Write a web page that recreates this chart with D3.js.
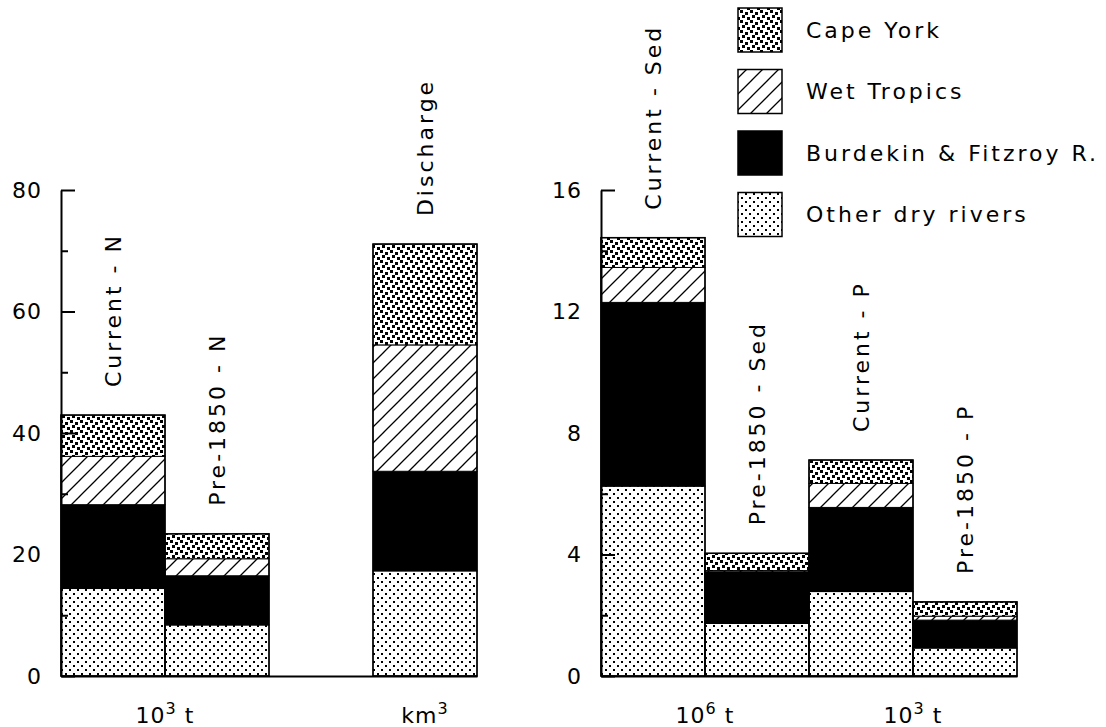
<!DOCTYPE html>
<html>
<head>
<meta charset="utf-8">
<script src="https://cdn.jsdelivr.net/npm/d3@7"></script>
<style>
  html, body { margin: 0; padding: 0; background: #fff; }
  svg { display: block; font-family: "DejaVu Sans", sans-serif; }
</style>
</head>
<body>
<svg id="chart" width="1106" height="727"></svg>
<script>
// ---------------- DATA ----------------
const seriesKeys = ["other", "burdekin", "wet", "cape"];
const legendNames = ["Cape York", "Wet Tropics", "Burdekin & Fitzroy R.", "Other dry rivers"];
const legendKeys = ["cape", "wet", "burdekin", "other"];

// Left panel (N in 10^3 t, discharge in km^3)
const leftSlots = ["Current - N", "Pre-1850 - N", "blank", "Discharge"];
const leftCategories = ["Current - N", "Pre-1850 - N", "Discharge"];
const leftOther = [14.4, 8.4, 17.3];
const leftBurdekin = [13.8, 8.1, 16.4];
const leftWet = [7.95, 2.8, 20.8];
const leftCape = [6.8, 4.1, 16.6];
const leftTicks = [0, 20, 40, 60, 80];
const leftMinorTicks = [10, 30, 50, 70];

// Right panel (Sed in 10^6 t, P in 10^3 t)
const rightCategories = ["Current - Sed", "Pre-1850 - Sed", "Current - P", "Pre-1850 - P"];
const rightOther = [6.25, 1.73, 2.78, 0.92];
const rightBurdekin = [6.05, 1.70, 2.77, 0.92];
const rightWet = [1.15, 0.04, 0.79, 0.13];
const rightCape = [0.98, 0.57, 0.77, 0.47];
const rightTicks = [0, 4, 8, 12, 16];
const rightMinorTicks = [2, 6, 10, 14];

// Unit labels
const leftUnitBase = ["10", "km"];
const leftUnitSup = ["3", "3"];
const leftUnitTail = [" t", ""];
const rightUnitBase = ["10", "10"];
const rightUnitSup = ["6", "3"];
const rightUnitTail = [" t", " t"];

// ---------------- DRAW ----------------
const svg = d3.select("#chart");
const FONT = 22;
const defs = svg.append("defs");

// Cape York: dense dots
const pCape = defs.append("pattern").attr("id", "p-cape")
  .attr("patternUnits", "userSpaceOnUse").attr("width", 10).attr("height", 10);
pCape.append("rect").attr("width", 10).attr("height", 10).attr("fill", "#fff");
[[0, 0], [5, 2], [2, 5], [7, 7]].forEach(([a, b]) =>
  pCape.append("rect").attr("x", a).attr("y", b).attr("width", 3).attr("height", 3).attr("fill", "#000"));

// Wet Tropics: diagonal hatch
const hs = 16;
const pWet = defs.append("pattern").attr("id", "p-wet")
  .attr("patternUnits", "userSpaceOnUse").attr("width", hs).attr("height", hs);
pWet.append("rect").attr("width", hs).attr("height", hs).attr("fill", "#fff");
pWet.append("path")
  .attr("d", `M0,${hs} L${hs},0 M${-hs/4},${hs/4} L${hs/4},${-hs/4} M${hs*3/4},${hs*5/4} L${hs*5/4},${hs*3/4}`)
  .attr("stroke", "#000").attr("stroke-width", 1.3);

// Other dry rivers: sparse dots
const pOther = defs.append("pattern").attr("id", "p-other")
  .attr("patternUnits", "userSpaceOnUse").attr("width", 8).attr("height", 8);
pOther.append("rect").attr("width", 8).attr("height", 8).attr("fill", "#fff");
[[1, 1], [5, 5]].forEach(([a, b]) =>
  pOther.append("rect").attr("x", a).attr("y", b).attr("width", 2).attr("height", 2).attr("fill", "#000"));

const fills = { cape: "url(#p-cape)", wet: "url(#p-wet)", burdekin: "#000", other: "url(#p-other)" };

function drawPanel(opts) {
  const { slots, cats, other, burdekin, wet, cape, yMax, ticks, minor, xRange, yRange } = opts;
  const x = d3.scaleBand().domain(slots).range(xRange).padding(0);
  const y = d3.scaleLinear().domain([0, yMax]).range(yRange);
  const rows = cats.map((c, i) => ({ cat: c, other: other[i], burdekin: burdekin[i], wet: wet[i], cape: cape[i] }));
  const stacked = d3.stack().keys(seriesKeys)(rows);
  const g = svg.append("g");

  // segments
  stacked.forEach(layer => {
    g.selectAll(null).data(layer).join("rect")
      .attr("x", d => x(d.data.cat))
      .attr("width", x.bandwidth())
      .attr("y", d => y(d[1]))
      .attr("height", d => Math.max(0, y(d[0]) - y(d[1])))
      .attr("fill", fills[layer.key])
      .attr("stroke", "#000").attr("stroke-width", 1);
  });
  // outlines
  g.selectAll(null).data(rows).join("rect")
    .attr("x", d => x(d.cat))
    .attr("width", x.bandwidth())
    .attr("y", d => y(d.other + d.burdekin + d.wet + d.cape))
    .attr("height", d => y(0) - y(d.other + d.burdekin + d.wet + d.cape))
    .attr("fill", "none").attr("stroke", "#000").attr("stroke-width", 1.5);

  // rotated category labels
  g.selectAll(null).data(rows).join("text")
    .attr("transform", d => `translate(${x(d.cat) + x.bandwidth() / 2},${y(d.other + d.burdekin + d.wet + d.cape) - 28}) rotate(-90)`)
    .attr("dy", "0.36em")
    .attr("text-anchor", "start")
    .attr("font-size", FONT)
    .attr("letter-spacing", 3)
    .attr("fill", "#000")
    .text(d => d.cat);

  // y axis (ticks pointing inward)
  const ax = g.append("g").attr("transform", `translate(${xRange[0]},0)`)
    .call(d3.axisLeft(y).tickValues(ticks).tickSize(-14).tickSizeOuter(0).tickPadding(19));
  ax.selectAll("text").attr("font-size", FONT).attr("font-family", "DejaVu Sans, sans-serif")
    .attr("letter-spacing", 1).attr("fill", "#000");
  ax.selectAll("line").attr("stroke-width", 2);
  ax.select(".domain").attr("stroke-width", 2);
  const axm = g.append("g").attr("transform", `translate(${xRange[0]},0)`)
    .call(d3.axisLeft(y).tickValues(minor).tickSize(-7).tickSizeOuter(0).tickFormat(""));
  axm.select(".domain").remove();
  axm.selectAll("line").attr("stroke-width", 2);

  // baseline
  const bx = g.append("g").attr("transform", `translate(0,${y(0)})`)
    .call(d3.axisBottom(x).tickValues([]).tickSizeOuter(0));
  bx.select(".domain").attr("stroke-width", 2);

  return { x, y, g };
}

function unitLabel(g, cx, base, sup, tail) {
  const t = g.append("text").attr("x", cx).attr("y", 723)
    .attr("text-anchor", "middle").attr("font-size", FONT).attr("letter-spacing", 1).attr("fill", "#000");
  t.append("tspan").text(base);
  t.append("tspan").attr("dy", -9).attr("font-size", 16).text(sup);
  if (tail) t.append("tspan").attr("dy", 9).text(tail);
}

const L = drawPanel({
  slots: leftSlots, cats: leftCategories,
  other: leftOther, burdekin: leftBurdekin, wet: leftWet, cape: leftCape,
  yMax: 80, ticks: leftTicks, minor: leftMinorTicks,
  xRange: [61, 477], yRange: [676, 190]
});
unitLabel(L.g, L.x(leftSlots[1]), leftUnitBase[0], leftUnitSup[0], leftUnitTail[0]);
unitLabel(L.g, L.x(leftSlots[3]) + L.x.bandwidth() / 2, leftUnitBase[1], leftUnitSup[1], leftUnitTail[1]);

const R = drawPanel({
  slots: rightCategories, cats: rightCategories,
  other: rightOther, burdekin: rightBurdekin, wet: rightWet, cape: rightCape,
  yMax: 16, ticks: rightTicks, minor: rightMinorTicks,
  xRange: [601, 1017], yRange: [676, 190]
});
unitLabel(R.g, R.x(rightCategories[1]), rightUnitBase[0], rightUnitSup[0], rightUnitTail[0]);
unitLabel(R.g, R.x(rightCategories[3]), rightUnitBase[1], rightUnitSup[1], rightUnitTail[1]);

// legend
const lg = svg.append("g");
legendKeys.forEach((k, i) => {
  const yy = 8 + i * 61.5;
  lg.append("rect").attr("x", 738).attr("y", yy).attr("width", 44).attr("height", 44)
    .attr("fill", fills[k]).attr("stroke", "#000").attr("stroke-width", 1.5);
  lg.append("text").attr("x", 806).attr("y", yy + 22).attr("dy", "0.36em")
    .attr("font-size", FONT).attr("letter-spacing", 3).attr("fill", "#000")
    .text(legendNames[i]);
});
</script>
</body>
</html>
